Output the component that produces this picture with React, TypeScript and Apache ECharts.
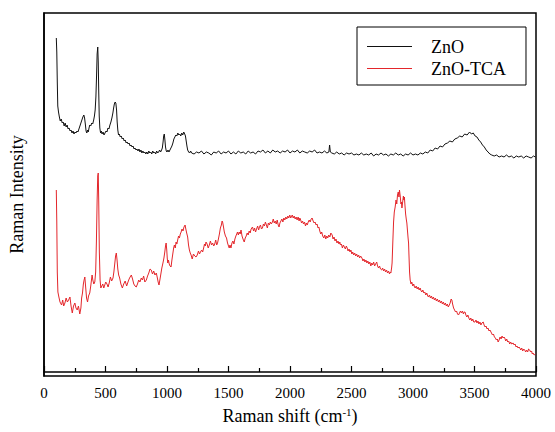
import React, { useEffect, useRef } from "react";
import * as echarts from "echarts";

const seriesNames = ["ZnO", "ZnO-TCA"];
const xTicks = { min: 0, max: 4000, interval: 500 };

const zno: number[][] = [
[100,334],[104,320],[108,290],[112,266],[118,260],[125,255],[132,251],[140,253],[148,249],[156,250],[164,246],[172,249],[180,245],[188,247],[196,243],[204,244],[212,241],[220,242],[228,239],[236,241],[244,238],[252,240],[260,239],[268,241],[276,240],[284,243],[292,246],[300,249],[308,252],[316,255],[324,257],[330,254],[336,248],[342,241],[348,239],[354,242],[360,240],[366,244],[372,247],[380,246],[388,249],[396,248],[404,252],[410,256],[416,262],[422,275],[427,295],[432,318],[437,325],[441,310],[445,280],[449,256],[454,244],[460,239],[466,241],[472,238],[480,240],[488,237],[496,239],[504,241],[512,240],[520,244],[528,243],[536,247],[544,250],[552,254],[560,259],[566,264],[572,268],[578,270],[584,269],[590,262],[595,250],[600,242],[606,237],[612,238],[620,235],[628,236],[636,233],[644,234],[652,231],[660,232],[668,229],[676,230],[684,228],[692,229],[700,226],[708,227],[716,225],[724,226],[732,223],[740,224],[748,222],[756,223],[764,221],[772,223],[780,220],[788,222],[796,219],[804,221],[812,219],[820,220],[828,218],[836,220],[844,218],[852,221],[860,219],[868,220],[876,218],[884,221],[892,219],[900,220],[908,218],[916,221],[924,219],[932,220],[940,222],[948,220],[956,222],[962,224],[968,230],[973,236],[978,238],[983,232],[988,225],[994,221],[1000,220],[1008,222],[1016,220],[1024,222],[1032,224],[1040,226],[1048,229],[1056,233],[1064,235],[1072,237],[1080,236],[1088,239],[1096,237],[1104,238],[1112,236],[1120,239],[1128,237],[1136,240],[1144,238],[1150,236],[1156,231],[1162,226],[1168,222],[1176,220],[1184,219],[1192,221],[1200,219],
[1220,218],[1240,220],[1260,219],[1280,221],[1300,218],[1320,220],[1340,219],[1360,217],[1380,220],[1400,219],[1420,221],[1440,218],[1460,220],[1480,219],[1500,221],[1520,218],[1540,220],[1560,218],[1580,221],[1600,219],[1620,220],[1640,218],[1660,221],[1680,219],[1700,220],[1720,218],[1740,221],[1760,220],[1780,222],[1800,219],[1820,221],[1840,219],[1860,222],[1880,220],[1900,221],[1920,219],[1940,221],[1960,220],[1980,222],[2000,219],[2020,221],[2040,220],[2060,222],[2080,219],[2100,221],[2120,220],[2140,219],[2160,221],[2180,220],[2200,222],[2220,219],[2240,220],[2260,219],[2280,221],[2300,219],[2316,220],[2322,227],[2328,220],[2340,219],[2360,218],[2380,220],[2400,218],[2420,219],[2440,217],[2460,219],[2480,218],[2500,219],[2520,217],[2540,218],[2560,217],[2580,219],[2600,217],[2620,218],[2640,217],[2660,219],[2680,216],[2700,218],[2720,217],[2740,219],[2760,217],[2780,218],[2800,216],[2820,218],[2840,217],[2860,219],[2880,217],[2900,218],[2920,216],[2940,218],[2960,217],[2980,219],[3000,217],[3020,218],[3040,217],[3060,219],[3080,218],[3100,220],[3120,219],[3140,222],[3160,221],[3180,224],[3200,223],[3220,226],[3240,225],[3260,228],[3280,229],[3300,231],[3320,230],[3340,233],[3360,234],[3380,236],[3400,235],[3420,238],[3440,237],[3460,240],[3475,238],[3490,239],[3505,236],[3520,235],[3535,232],[3550,230],[3565,227],[3580,225],[3595,222],[3610,220],[3625,218],[3640,217],[3660,216],[3680,217],[3700,215],[3720,216],[3740,215],[3760,217],[3780,215],[3800,216],[3820,214],[3840,216],[3860,215],[3880,216],[3900,214],[3920,216],[3940,215],[3960,214],[3980,216],[3995,215]
];

const znoTca: number[][] = [
[100,182],[104,150],[108,100],[113,80],[121,75],[130,70],[143,67],[152,72],[160,66],[170,69],[180,74],[190,70],[200,72],[211,75],[220,66],[230,59],[240,66],[251,69],[260,64],[270,62],[280,66],[291,58],[300,64],[306,74],[313,79],[320,88],[326,92],[332,95],[338,86],[346,74],[354,70],[362,76],[372,79],[380,86],[386,92],[391,97],[397,92],[405,88],[413,90],[420,100],[426,130],[432,172],[437,196],[441,199],[445,170],[450,120],[456,92],[462,84],[470,86],[478,88],[486,84],[494,87],[502,90],[512,88],[521,85],[530,89],[540,95],[550,91],[561,94],[568,100],[575,108],[582,116],[588,119],[594,112],[600,103],[607,97],[615,94],[625,88],[637,84],[648,88],[660,91],[672,86],[683,90],[692,93],[700,95],[710,97],[720,93],[730,88],[740,86],[750,85],[760,88],[770,92],[780,90],[791,94],[800,92],[810,96],[820,90],[832,92],[842,96],[852,99],[862,103],[872,102],[882,98],[892,101],[902,97],[913,99],[920,95],[928,90],[935,87],[942,92],[950,98],[958,104],[967,109],[975,114],[982,120],[988,126],[993,129],[998,122],[1002,114],[1006,109],[1012,112],[1018,108],[1025,106],[1033,105],[1040,112],[1047,118],[1054,124],[1060,127],[1067,124],[1074,130],[1080,128],[1087,132],[1094,136],[1101,134],[1108,138],[1115,140],[1122,143],[1130,141],[1138,145],[1147,147],[1153,143],[1160,139],[1168,135],[1175,127],[1182,122],[1189,119],[1196,117],[1205,113],[1215,118],[1226,116],[1236,115],[1246,117],[1256,121],[1264,118],[1272,120],[1282,122],[1290,120],[1298,124],[1305,128],[1311,126],[1317,130],[1326,128],[1335,124],[1344,127],[1353,131],[1362,127],[1371,129],[1380,126],[1388,128],[1396,132],[1404,127],[1411,129],[1418,133],[1426,138],[1434,144],[1442,147],[1448,151],[1452,150],[1458,146],[1466,140],[1475,136],[1484,134],[1492,129],[1500,126],[1506,124],[1512,127],[1520,124],[1528,129],[1536,131],[1544,128],[1552,133],[1560,136],[1567,138],[1573,140],[1580,137],[1587,140],[1595,138],[1602,142],[1610,136],[1618,133],[1628,130],[1636,134],[1644,136],[1652,139],[1660,137],[1668,141],[1676,139],[1684,143],[1695,145],[1704,141],[1712,144],[1720,140],[1728,143],[1737,146],[1745,142],[1752,145],[1760,147],[1768,143],[1776,144],[1784,148],[1792,146],[1800,150],[1808,147],[1816,144],[1824,149],[1832,147],[1840,150],[1848,148],[1857,150],[1864,153],[1872,149],[1880,151],[1888,148],[1896,152],[1904,147],[1911,145],[1918,149],[1926,151],[1934,153],[1942,150],[1950,154],[1958,152],[1966,155],[1974,153],[1982,156],[1990,154],[1998,157],[2006,154],[2013,156],[2019,157],[2026,154],[2034,156],[2042,153],[2050,155],[2058,152],[2066,155],[2074,151],[2080,154],[2087,152],[2094,149],[2102,151],[2110,148],[2118,150],[2126,146],[2133,149],[2140,147],[2148,150],[2156,152],[2164,150],[2172,153],[2180,154],[2188,151],[2196,149],[2204,150],[2212,147],[2220,148],[2228,144],[2235,145],[2242,141],[2250,138],[2258,140],[2266,136],[2275,134],[2283,137],[2291,133],[2299,136],[2307,134],[2315,137],[2324,135],[2332,139],[2343,137],[2350,133],[2358,135],[2366,131],[2374,133],[2382,129],[2390,131],[2398,128],[2405,130],[2410,127],[2418,128],[2426,124],[2434,127],[2442,125],[2450,123],[2458,126],[2465,124],[2472,121],[2480,123],[2488,120],[2495,122],[2503,118],[2510,120],[2518,117],[2526,119],[2534,116],[2542,118],[2550,115],[2558,117],[2566,114],[2574,116],[2585,114],[2593,111],[2601,113],[2609,110],[2617,112],[2625,109],[2633,111],[2641,108],[2649,110],[2657,106],[2665,109],[2672,107],[2680,110],[2688,106],[2696,108],[2705,110],[2712,106],[2720,104],[2728,106],[2736,103],[2745,102],[2753,104],[2761,101],[2769,103],[2777,100],[2785,102],[2793,99],[2801,101],[2809,98],[2815,100],[2820,99],[2826,104],[2830,109],[2836,130],[2842,150],[2848,160],[2855,165],[2862,172],[2868,168],[2874,177],[2880,180],[2886,175],[2890,182],[2896,176],[2902,168],[2906,170],[2910,164],[2916,170],[2922,176],[2926,172],[2930,175],[2935,166],[2940,158],[2945,153],[2950,149],[2956,140],[2960,134],[2964,129],[2968,114],[2972,100],[2977,92],[2984,88],[2990,90],[2998,86],[3006,88],[3012,85],[3018,84],[3026,86],[3034,83],[3042,85],[3050,82],[3058,84],[3066,81],[3072,80],[3080,82],[3088,79],[3096,80],[3104,77],[3112,79],[3120,76],[3126,75],[3134,77],[3142,74],[3150,76],[3158,73],[3166,75],[3174,72],[3182,74],[3190,71],[3198,73],[3207,70],[3215,72],[3223,69],[3231,71],[3239,68],[3247,70],[3255,67],[3263,69],[3271,66],[3279,68],[3287,65],[3295,67],[3302,69],[3310,73],[3316,72],[3322,68],[3330,64],[3338,62],[3346,60],[3354,61],[3362,58],[3370,57],[3378,59],[3386,61],[3394,59],[3402,61],[3410,58],[3416,60],[3423,60],[3430,57],[3438,55],[3446,57],[3454,54],[3462,52],[3470,54],[3478,51],[3486,53],[3494,50],[3504,50],[3512,52],[3520,49],[3528,51],[3536,48],[3544,50],[3552,47],[3560,49],[3571,50],[3578,47],[3586,45],[3594,46],[3602,43],[3610,44],[3618,41],[3626,42],[3638,39],[3646,37],[3654,38],[3662,35],[3670,34],[3678,32],[3686,33],[3692,30],[3700,32],[3708,35],[3716,33],[3724,36],[3732,34],[3740,35],[3746,34],[3754,31],[3762,33],[3770,30],[3778,31],[3786,28],[3794,30],[3802,28],[3814,29],[3822,27],[3830,28],[3838,25],[3846,26],[3854,24],[3862,25],[3868,24],[3876,22],[3884,24],[3892,21],[3900,23],[3908,22],[3916,20],[3924,22],[3932,20],[3940,23],[3949,22],[3956,20],[3964,21],[3970,18],[3976,19],[3985,17],[3995,18]
];

const FONT = "Liberation Serif";
const BLACK = "#111";
const RED = "#e3262b";

export default function App() {
  const ref = useRef<HTMLDivElement>(null);
  useEffect(() => {
    if (!ref.current) return;
    const chart = echarts.init(ref.current, undefined, { renderer: "svg" });
    chart.setOption({
      animation: false,
      backgroundColor: "#fff",
      textStyle: { fontFamily: FONT },
      grid: {
        left: 44, right: 19, top: 13, bottom: 56,
        show: true, borderColor: "#000", borderWidth: 1.5, backgroundColor: "transparent",
      },
      legend: {
        orient: "vertical",
        left: 357, top: 27,
        borderColor: "#000", borderWidth: 1,
        padding: [10, 20, 7, 10],
        icon: "rect",
        itemWidth: 45, itemHeight: 1.2, itemGap: 3,
        textStyle: { fontFamily: FONT, fontSize: 18, lineHeight: 19, color: "#000", padding: [0, 0, 0, 14] },
        data: seriesNames,
      },
      xAxis: {
        type: "value",
        min: xTicks.min, max: xTicks.max, interval: xTicks.interval,
        name: "{a|Raman shift (cm}{s|-1}{a|)}",
        nameLocation: "middle", nameGap: 30,
        nameTextStyle: {
          fontFamily: FONT,
          rich: {
            a: { fontFamily: FONT, fontSize: 18, color: "#000" },
            s: { fontFamily: FONT, fontSize: 11, color: "#000", verticalAlign: "top", padding: [0, 0, 8, 0] },
          },
        },
        axisLine: { show: true, lineStyle: { color: "#000", width: 1.5 } },
        axisTick: { show: true, inside: true, length: 6, lineStyle: { color: "#000", width: 1.2 } },
        minorTick: { show: true, splitNumber: 2, length: 4, lineStyle: { color: "#000", width: 1.2 } },
        splitLine: { show: false },
        axisLabel: { fontFamily: FONT, fontSize: 15, color: "#000", margin: 9, formatter: (v: number) => String(v) },
      },
      yAxis: {
        type: "value",
        min: -4, max: 359,
        name: "Raman Intensity",
        nameLocation: "middle", nameGap: 18, nameRotate: 90,
        nameTextStyle: { fontFamily: FONT, fontSize: 18, color: "#000" },
        axisLine: { show: true, lineStyle: { color: "#000", width: 1.5 } },
        axisTick: { show: false },
        axisLabel: { show: false },
        splitLine: { show: false },
      },
      series: [
        {
          name: seriesNames[0], type: "line", data: zno, symbol: "none",
          lineStyle: { color: BLACK, width: 1 }, itemStyle: { color: BLACK },
        },
        {
          name: seriesNames[1], type: "line", data: znoTca, symbol: "none",
          lineStyle: { color: RED, width: 1 }, itemStyle: { color: RED },
        },
      ],
    });
    return () => chart.dispose();
  }, []);
  return <div ref={ref} style={{ position: "fixed", left: 0, top: 0, width: 555, height: 432 }} />;
}
